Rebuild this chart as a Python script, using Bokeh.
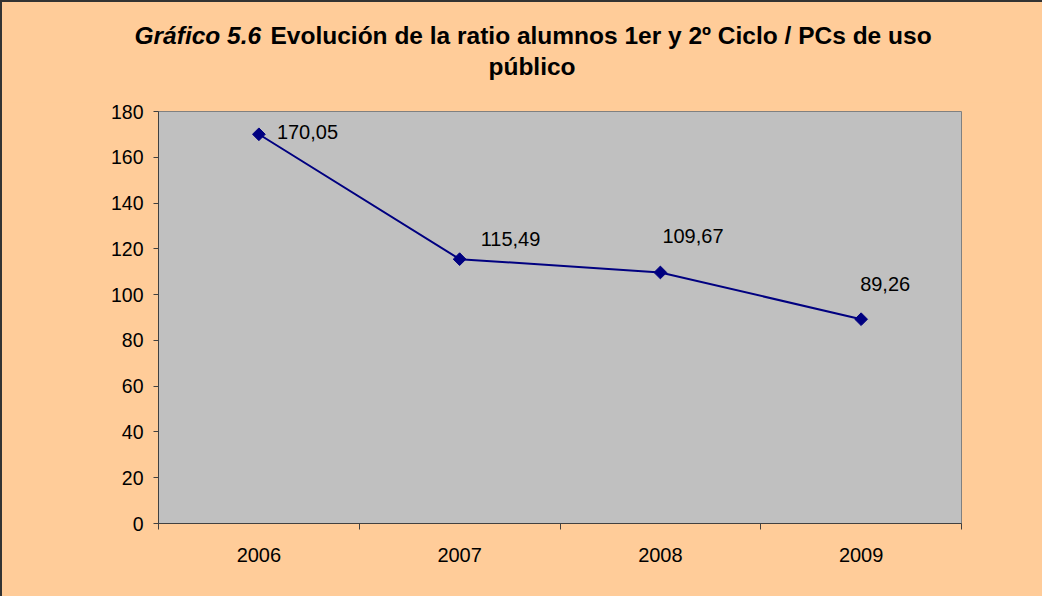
import math
from bokeh.plotting import figure
from bokeh.layouts import column
from bokeh.models import ColumnDataSource, Range1d, FixedTicker
from bokeh.core.properties import value
from bokeh.embed import file_html
from bokeh.resources import INLINE

# ---- data ----
years = ["2006", "2007", "2008", "2009"]
ratio = [170.05, 115.49, 109.67, 89.26]
ratio_labels = ["170,05", "115,49", "109,67", "89,26"]
y_ticks = [0, 20, 40, 60, 80, 100, 120, 140, 160, 180]

title_prefix = "Gráfico 5.6"
title_line1 = "Evolución de la ratio alumnos 1er y 2º Ciclo / PCs de uso"
title_line2 = "público"

# label placement (screen offsets, px)
label_dx = [18, 21, 2, -1]
label_dy = [-2, -20, -36, -35]

FONT = "Liberation Sans"
BG = "#FFCC99"
W = 1040
TH = 100
ML, MR = 156, 81

# ---- title strip ----
t = figure(title=None, width=W, height=TH, output_backend="svg", toolbar_location=None,
           x_range=Range1d(0, W), y_range=Range1d(TH, 0),
           min_border_left=0, min_border_right=0, min_border_top=0, min_border_bottom=0)
t.frame_align = False
t.axis.visible = False
t.grid.visible = False
t.outline_line_color = None
t.background_fill_color = BG
t.border_fill_color = BG
tcommon = dict(text_font=value(FONT), text_font_size="24.5px", text_color="black",
               text_baseline="alphabetic")
t.text(x=[132], y=[33], text=[title_prefix], text_font_style="bold italic",
       text_align="left", **tcommon)
t.text(x=[268], y=[33], text=[title_line1], text_font_style="bold",
       text_align="left", **tcommon)
t.text(x=[529.5], y=[64], text=[title_line2], text_font_style="bold",
       text_align="center", **tcommon)

# ---- main chart ----
xs = [i + 0.5 for i in range(len(years))]
src = ColumnDataSource(dict(x=xs, y=ratio, lab=ratio_labels, dx=label_dx, dy=label_dy))

p = figure(width=W, height=594 - TH, output_backend="svg", toolbar_location=None,
           x_range=Range1d(0, len(years)), y_range=Range1d(0, 180),
           min_border_left=ML, min_border_right=MR, min_border_top=9, min_border_bottom=73)
p.frame_align = False
p.background_fill_color = "#C0C0C0"
p.border_fill_color = BG
p.outline_line_color = "#808080"
p.outline_line_width = 1
p.grid.visible = False

p.yaxis.ticker = FixedTicker(ticks=y_ticks)
p.yaxis.minor_tick_line_color = None
p.yaxis.major_tick_in = 0
p.yaxis.major_tick_out = 5
p.yaxis.major_label_standoff = 10
p.yaxis.axis_line_color = "#404040"
p.yaxis.major_tick_line_color = "#404040"
p.yaxis.major_label_text_font = FONT
p.yaxis.major_label_text_font_size = "19.5px"
p.yaxis.major_label_text_color = "black"

p.xaxis.ticker = FixedTicker(ticks=xs, minor_ticks=list(range(len(years) + 1)))
p.xaxis.major_label_overrides = {x: y for x, y in zip(xs, years)}
p.xaxis.major_tick_in = 0
p.xaxis.major_tick_out = 0
p.xaxis.minor_tick_in = 0
p.xaxis.minor_tick_out = 6
p.xaxis.minor_tick_line_color = "#404040"
p.xaxis.axis_line_color = "#404040"
p.xaxis.major_label_standoff = 18
p.xaxis.major_label_text_font = FONT
p.xaxis.major_label_text_font_size = "20px"
p.xaxis.major_label_text_color = "black"

p.line("x", "y", source=src, line_color="#000080", line_width=2)
p.scatter("x", "y", source=src, marker="square", angle=math.pi / 4, size=9,
          fill_color="#000080", line_color="#000080")
p.text("x", "y", text="lab", source=src, x_offset="dx", y_offset="dy",
       text_font=value(FONT), text_font_size="20px", text_color="black",
       text_align="left", text_baseline="middle")

layout = column(t, p, spacing=0)
layout.styles = {"border-left": "2px solid #333333", "border-top": "2px solid #333333",
                 "background-color": BG}

open("out.html", "w").write(file_html(layout, INLINE))
